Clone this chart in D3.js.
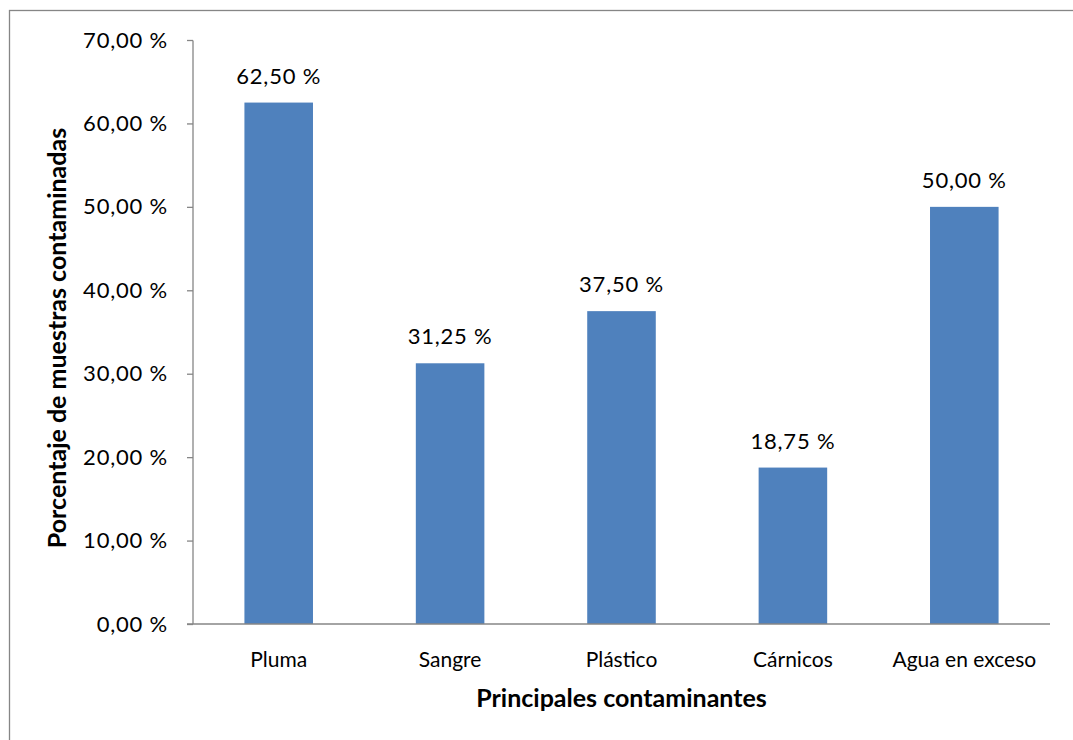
<!DOCTYPE html>
<html>
<head>
<meta charset="utf-8">
<script src="https://cdn.jsdelivr.net/npm/d3@7"></script>
<style>
  html, body { margin: 0; padding: 0; background: #fff; }
  svg { display: block; font-family: Lato, "Open Sans", sans-serif; }
</style>
</head>
<body>
<svg id="chart" width="1073" height="740"></svg>
<script>
// Contaminantes principales y porcentaje de muestras contaminadas
const categories = ["Pluma", "Sangre", "Plástico", "Cárnicos", "Agua en exceso"];
const values = [62.5, 31.25, 37.5, 18.75, 50.0];
const yTicks = [0, 10, 20, 30, 40, 50, 60, 70];

const fmt = v => v.toFixed(2).replace(".", ",") + "\u00a0%";

const svg = d3.select("#chart");
const W = 1073, H = 740;
const margin = { left: 193, right: 23, top: 40, bottom: 116 };
const plotW = W - margin.left - margin.right;
const plotH = H - margin.top - margin.bottom;
const axisColor = "#868686";
const font = "Lato, 'Open Sans', sans-serif";

// Chart frame
svg.append("rect")
  .attr("x", 9.5).attr("y", 10.5)
  .attr("width", W + 10).attr("height", H + 10)
  .attr("fill", "none").attr("stroke", axisColor).attr("stroke-width", 1.3);

const g = svg.append("g").attr("transform", `translate(${margin.left},${margin.top})`);

const x = d3.scaleBand().domain(categories).range([0, plotW]).paddingInner(0.6).paddingOuter(0.3);
const y = d3.scaleLinear().domain([0, 70]).range([plotH, 0]);

// Bars
g.selectAll("rect.bar").data(values).join("rect")
  .attr("class", "bar")
  .attr("x", (d, i) => x(categories[i]))
  .attr("y", d => y(d))
  .attr("width", x.bandwidth())
  .attr("height", d => y(0) - y(d))
  .attr("fill", "#4f81bd");

// Value labels
g.selectAll("text.val").data(values).join("text")
  .attr("class", "val")
  .attr("x", (d, i) => x(categories[i]) + x.bandwidth() / 2)
  .attr("y", d => y(d) - 19)
  .attr("text-anchor", "middle")
  .attr("font-size", 22)
  .attr("letter-spacing", 0.8)
  .attr("fill", "#000")
  .text(d => fmt(d));

// Y axis
const yAxis = g.append("g")
  .call(d3.axisLeft(y).tickValues(yTicks).tickSize(6).tickPadding(19).tickFormat(fmt));
yAxis.selectAll("path, line").attr("stroke", axisColor).attr("stroke-width", 1.3);
yAxis.select("path").attr("d", `M0,0.5V${plotH}`);
yAxis.selectAll("text").attr("font-size", 22).attr("letter-spacing", 0.8)
  .attr("fill", "#000").attr("font-family", font);

// X axis
const xAxis = g.append("g").attr("transform", `translate(0,${plotH})`)
  .call(d3.axisBottom(x).tickSize(0).tickPadding(28));
xAxis.select("path").attr("stroke", axisColor).attr("stroke-width", 1.3).attr("d", `M-6,0H${plotW}`);
xAxis.selectAll("text").attr("font-size", 21).attr("dy", 0).attr("fill", "#000").attr("font-family", font)
  .attr("y", 43);

// Axis titles
svg.append("text")
  .attr("x", margin.left + plotW / 2).attr("y", 707)
  .attr("text-anchor", "middle")
  .attr("font-size", 25).attr("font-weight", "bold")
  .text("Principales contaminantes");

svg.append("text")
  .attr("transform", `translate(66,338) rotate(-90)`)
  .attr("text-anchor", "middle")
  .attr("font-size", 25).attr("font-weight", "bold")
  .text("Porcentaje de muestras contaminadas");
</script>
</body>
</html>
